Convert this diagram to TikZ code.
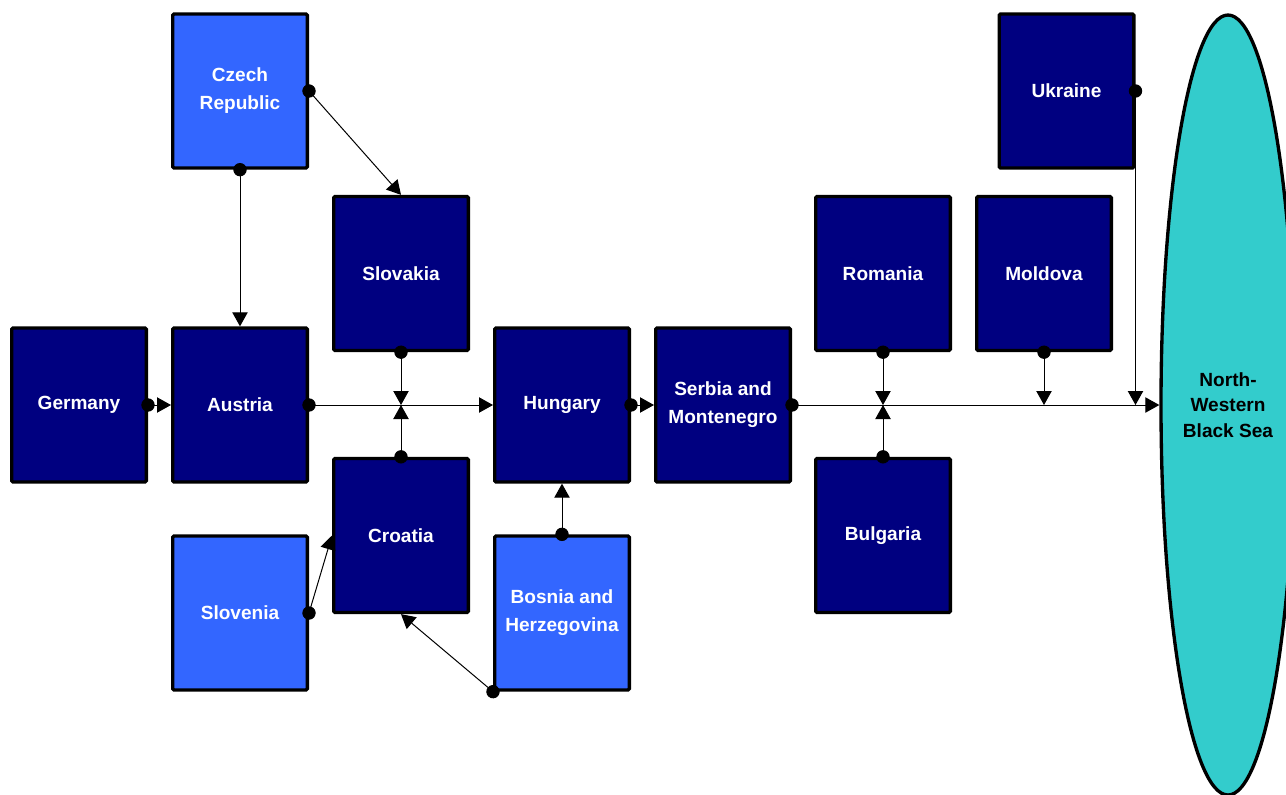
\documentclass[tikz,border=0pt]{standalone}
\usepackage{fontspec}
\setmainfont{Liberation Sans}
\usetikzlibrary{arrows.meta,shapes.geometric}
\definecolor{navy}{HTML}{000080}
\definecolor{lblue}{HTML}{3366FF}
\definecolor{seacol}{HTML}{33CCCC}
\tikzset{
  country/.style={draw=black, line width=2.5pt, rounded corners=1pt,
    minimum width=101pt, minimum height=115.5pt, text=white,
    font=\bfseries\fontsize{14.3}{21}\selectfont, align=center, inner sep=0pt},
  dark/.style={country, fill=navy},
  light/.style={country, fill=lblue},
  link/.style={line width=0.75pt, {Circle[length=10pt]}-{Triangle[length=10.5pt,width=11.5pt]}, shorten <=-5pt},
}
\begin{document}
\begin{tikzpicture}[x=0.75pt,y=-0.75pt]
\useasboundingbox (0,0) rectangle (1286,794);
\clip (0,0) rectangle (1286,794);
\node[light] (czech) at (240,91) {Czech\\Republic};
\node[dark] (slovakia) at (401,273.5) {Slovakia};
\node[dark] (germany) at (79,405) {Germany};
\node[dark] (austria) at (240,405) {Austria};
\node[dark] (hungary) at (562,405) {Hungary};
\node[dark] (serbia) at (723,405) {Serbia and\\Montenegro};
\node[dark] (romania) at (883,273.5) {Romania};
\node[dark] (moldova) at (1044,273.5) {Moldova};
\node[dark] (ukraine) at (1066.5,91) {Ukraine};
\node[dark] (croatia) at (401,535.5) {Croatia};
\node[light] (slovenia) at (240,613) {Slovenia};
\node[light] (bosnia) at (562,613) {Bosnia and\\Herzegovina};
\node[dark] (bulgaria) at (883,535.5) {Bulgaria};
\node[ellipse, draw=black, line width=2.5pt, fill=seacol, minimum width=100.5pt,
  minimum height=585pt, inner sep=0pt, align=center, text=black,
  font=\bfseries\fontsize{14.3}{19}\selectfont] (sea) at (1228,405) {North-\\Western\\Black Sea};
\draw[link] (czech.east) -- (slovakia.north);
\draw[link] (czech.south) -- (austria.north);
\draw[link] (germany.east) -- (austria.west);
\draw[link] (austria.east) -- (hungary.west);
\draw[link] (slovakia.south) -- (slovakia.south |- austria.east);
\draw[link] (croatia.north) -- (croatia.north |- austria.east);
\draw[link] (hungary.east) -- (serbia.west);
\draw[link] (serbia.east) -- (sea.west);
\draw[link] (romania.south) -- (romania.south |- serbia.east);
\draw[link] (bulgaria.north) -- (bulgaria.north |- serbia.east);
\draw[link] (moldova.south) -- (moldova.south |- serbia.east);
\draw[link] (ukraine.east) -- (ukraine.east |- serbia.east);
\draw[link] (slovenia.east) -- (croatia.west);
\draw[link] (bosnia.south west) -- (croatia.south);
\draw[link] (bosnia.north) -- (hungary.south);
\end{tikzpicture}
\end{document}
